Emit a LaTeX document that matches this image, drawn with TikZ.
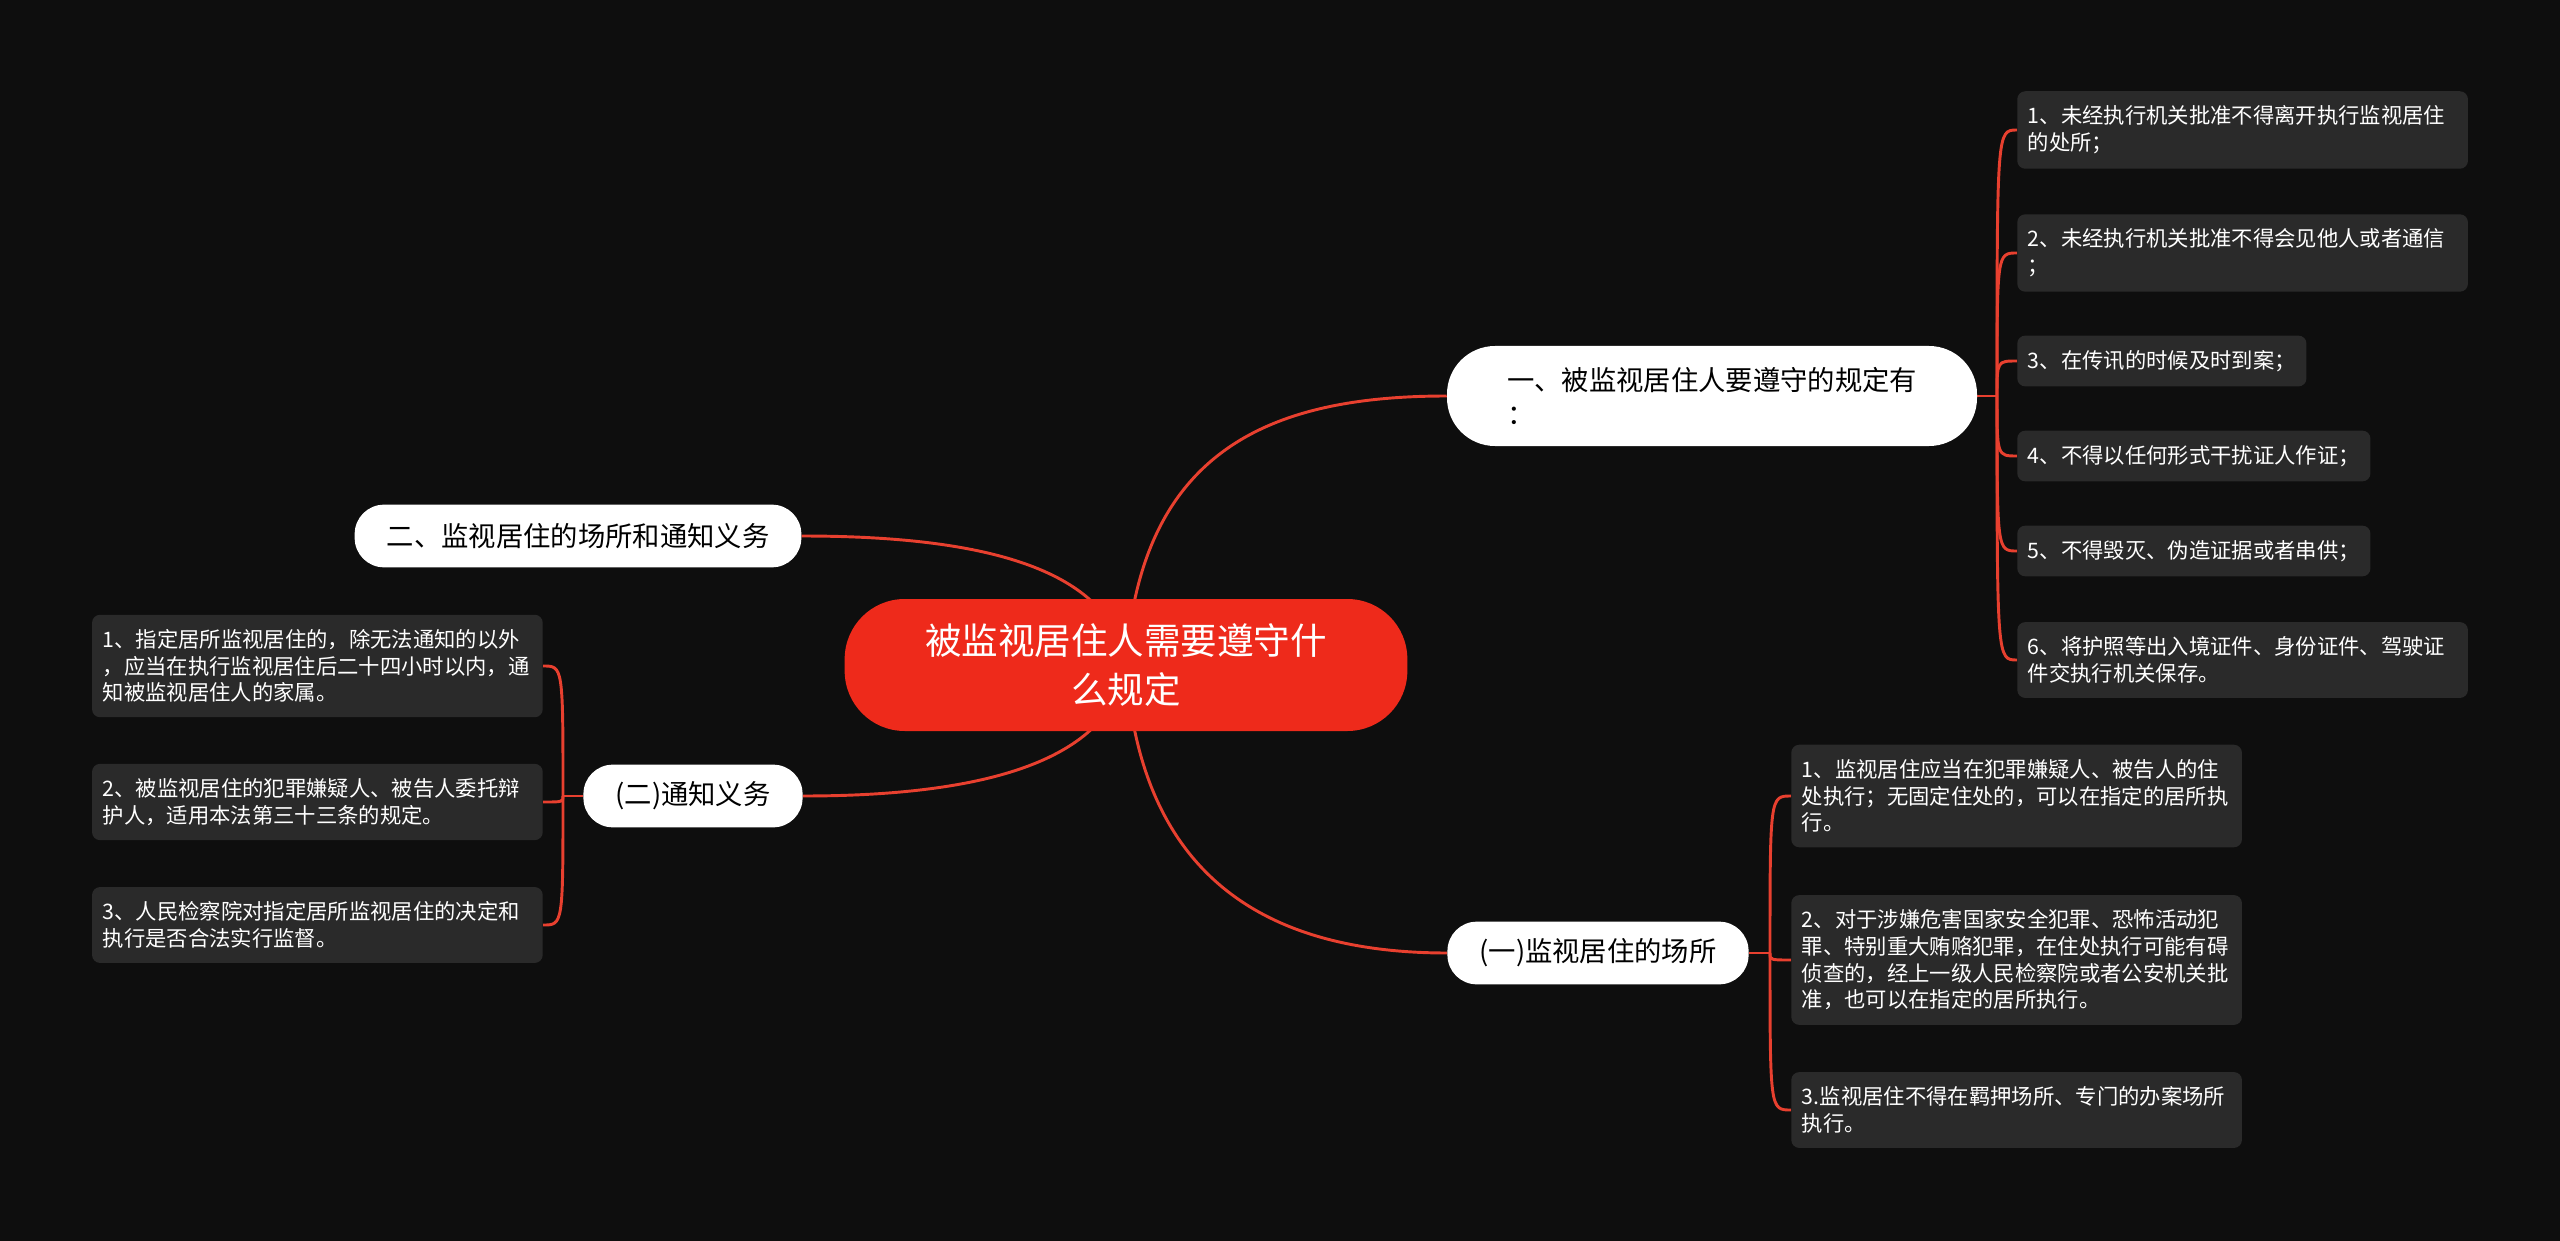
\documentclass[tikz,border=0pt]{standalone}
\usepackage{fontspec}
\setmainfont{Noto Sans CJK SC}
\usepackage{tikz}
\usetikzlibrary{shapes}
\definecolor{bgcol}{HTML}{0E0E0E}
\definecolor{rootred}{HTML}{EE2A1B}
\definecolor{linered}{HTML}{E8402F}
\definecolor{leafgray}{HTML}{2A2A2A}
\pgfdeclarelayer{bg}
\pgfdeclarelayer{edges}
\pgfsetlayers{bg,edges,main}
\tikzset{
  root/.style={fill=rootred, text=white, rounded corners=45pt, minimum width=422pt, minimum height=99pt, align=center, font=\fontsize{27.4}{37}\selectfont},
  pill/.style={fill=white, text=black, rounded corners=22pt, minimum height=47pt, inner xsep=24pt, font=\fontsize{20.5}{25}\selectfont},
  leaf/.style={fill=leafgray, text=white, rounded corners=6pt, anchor=west, align=left, inner xsep=8pt, inner ysep=11pt, font=\fontsize{16}{20}\selectfont},
  leafwide/.style={text width=322pt},
  branch/.style={draw=linered, line width=2.2pt},
}

\begin{document}
\begin{tikzpicture}[x=0.75pt,y=0.75pt,yscale=-1,xscale=1]
\useasboundingbox (0,0) rectangle (2560,1241);
\begin{pgfonlayer}{bg}
\fill[bgcol] (0,0) rectangle (2560,1241);
\end{pgfonlayer}

%Root
\node[root] (root) at (1126,665) {被监视居住人需要遵守什\\么规定};
%Main topics
\node[pill, minimum width=397.5pt, minimum height=75pt, rounded corners=36pt, align=left] (rule) at (1712,396) {一、被监视居住人要遵守的规定有\\：};
\node[pill] (place) at (578,536) {二、监视居住的场所和通知义务};
\node[pill] (notice) at (693,796) {(二)通知义务};
\node[pill] (site) at (1598,953) {(一)监视居住的场所};

%Leaves of rule
\node[leaf, leafwide] (r1) at (2017,130) {1、未经执行机关批准不得离开执行监视居住\\的处所；};
\node[leaf, leafwide] (r2) at (2017,253) {2、未经执行机关批准不得会见他人或者通信\\；};
\node[leaf] (r3) at (2017,361) {3、在传讯的时候及时到案；};
\node[leaf] (r4) at (2017,456) {4、不得以任何形式干扰证人作证；};
\node[leaf] (r5) at (2017,551) {5、不得毁灭、伪造证据或者串供；};
\node[leaf, leafwide] (r6) at (2017,660) {6、将护照等出入境证件、身份证件、驾驶证\\件交执行机关保存。};

%Leaves of site
\node[leaf, leafwide] (s1) at (1791,796) {1、监视居住应当在犯罪嫌疑人、被告人的住\\处执行；无固定住处的，可以在指定的居所执\\行。};
\node[leaf, leafwide] (s2) at (1791,960) {2、对于涉嫌危害国家安全犯罪、恐怖活动犯\\罪、特别重大贿赂犯罪，在住处执行可能有碍\\侦查的，经上一级人民检察院或者公安机关批\\准，也可以在指定的居所执行。};
\node[leaf, leafwide] (s3) at (1791,1110) {3.监视居住不得在羁押场所、专门的办案场所\\执行。};

%Leaves of notice
\node[leaf, leafwide, anchor=east] (n1) at (543,666) {1、指定居所监视居住的，除无法通知的以外\\，应当在执行监视居住后二十四小时以内，通\\知被监视居住人的家属。};
\node[leaf, leafwide, anchor=east] (n2) at (543,802) {2、被监视居住的犯罪嫌疑人、被告人委托辩\\护人，适用本法第三十三条的规定。};
\node[leaf, leafwide, anchor=east] (n3) at (543,925) {3、人民检察院对指定居所监视居住的决定和\\执行是否合法实行监督。};

%Junctions
\coordinate (ja) at (1997,396);
\coordinate (jb) at (1770,953);
\coordinate (jc) at (563,796);

\begin{pgfonlayer}{edges}
%Curves from root
\draw[branch] (root.center) .. controls (1140,450) and (1270,396) .. (rule.west);
\draw[branch] (root.center) .. controls (1140,880) and (1270,953) .. (site.west);
\draw[branch] (root.center) .. controls (1110,560) and (960,536) .. (place.east);
\draw[branch] (root.center) .. controls (1110,770) and (960,796) .. (notice.east);
%Stubs
\draw[branch] (rule.east) -- (ja);
\draw[branch] (site.east) -- (jb);
\draw[branch] (notice.west) -- (jc);
%Curves to leaves
\foreach \n in {r1,r2,r3,r4,r5,r6}
  \draw[branch] (ja) .. controls (ja |- \n.west) .. (\n.west);
\foreach \n in {s1,s2,s3}
  \draw[branch] (jb) .. controls (jb |- \n.west) .. (\n.west);
\foreach \n in {n1,n2,n3}
  \draw[branch] (jc) .. controls (jc |- \n.east) .. (\n.east);
\end{pgfonlayer}

\end{tikzpicture}
\end{document}
